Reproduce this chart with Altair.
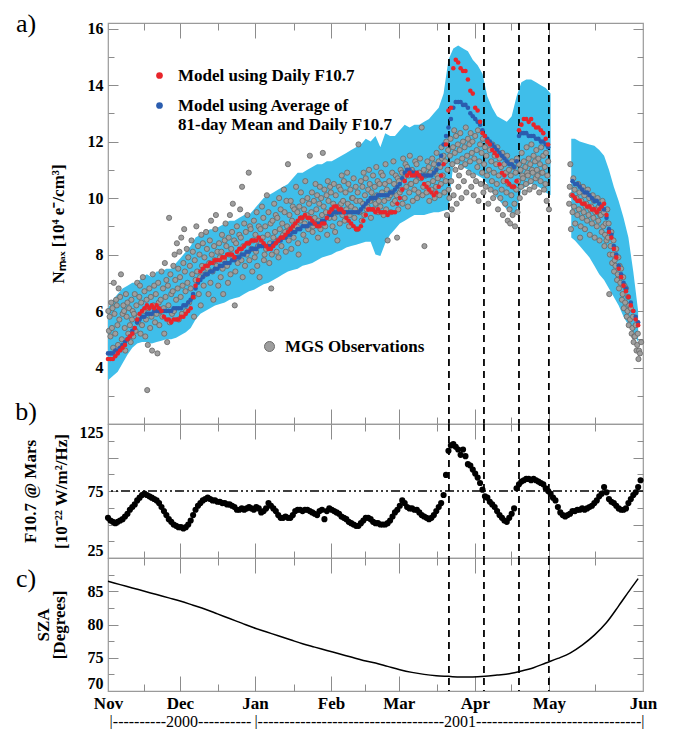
import altair as alt
import pandas as pd

SERIF = "Liberation Serif"

# ---------------- x axis (days counted from 1 Nov 2000) ----------------
month_names = ["Nov", "Dec", "Jan", "Feb", "Mar", "Apr", "May", "Jun"]
month_pos = [0, 29.6, 60.4, 91.7, 119.6, 150.9, 181.3, 220]
mid_month_pos = [14.7, 45.2, 76.5, 105.7, 135.3, 165.7, 200.2]
year_names = ["|----------2000----------",
              "|-----------------------------------2001-------------------------------|"]
year_pos = [29.6, 140.2]
event_days = [140.2, 154.6, 169.0, 181.3]

# ---------------- panel a: Nmax ----------------
S_RED = "Model using Daily F10.7"
S_BLUE = "Model using Average of 81-day Mean and Daily F10.7"

model_daily_1 = [  # days 0..181
    4.3, 4.3, 4.3, 4.4, 4.5, 4.6, 4.7, 4.8, 5.0, 5.1,
    5.2, 5.4, 5.7, 5.9, 6.0, 6.1, 6.2, 6.1, 6.2, 6.1,
    6.2, 6.1, 6.0, 5.8, 5.7, 5.7, 5.6, 5.7, 5.7, 5.7,
    5.8, 5.8, 5.9, 6.0, 6.1, 6.5, 6.9, 7.1, 7.4, 7.5,
    7.6, 7.6, 7.7, 7.7, 7.8, 7.8, 7.8, 7.9, 7.9, 8.0,
    8.0, 8.0, 7.9, 8.1, 8.2, 8.2, 8.3, 8.4, 8.4, 8.5,
    8.5, 8.5, 8.6, 8.5, 8.4, 8.3, 8.2, 8.2, 8.3, 8.4,
    8.5, 8.6, 8.6, 8.7, 8.8, 8.9, 9.0, 9.1, 9.2, 9.3,
    9.3, 9.4, 9.3, 9.3, 9.2, 9.1, 9.0, 9.0, 9.1, 9.1,
    9.3, 9.5, 9.6, 9.7, 9.7, 9.6, 9.6, 9.5, 9.3, 9.2,
    9.1, 9.0, 8.9, 8.9, 9.0, 9.2, 9.4, 9.6, 9.6, 9.6,
    9.5, 9.6, 9.5, 9.5, 9.5, 9.4, 9.5, 9.5, 9.5, 9.8,
    10.0, 10.3, 10.6, 10.8, 10.9, 10.8, 10.8, 10.9, 10.8, 10.7,
    10.5, 10.4, 10.3, 10.2, 10.1, 10.2, 10.4, 10.8, 11.2, 11.9,
    13.1, 13.2, 14.6, 14.9, 14.8, 14.6, 14.5, 14.5, 14.2, 13.8,
    13.7, 13.2, 13.1, 12.7, 12.3, 12.2, 12.0, 11.9, 11.7, 11.6,
    11.5, 11.2, 10.9, 10.8, 10.6, 10.5, 10.4, 10.4, 10.6, 12.4,
    12.6, 12.8, 12.8, 12.7, 12.8, 12.6, 12.5, 12.5, 12.4, 12.3, 12.1, 11.9]
model_daily_2 = [  # days 191..218
    10.1, 10.0, 9.9, 9.9, 9.8, 9.8, 9.7, 9.7, 9.6, 9.6,
    9.5, 9.6, 9.7, 9.8, 9.4, 8.8, 8.6, 8.2, 7.9, 7.5,
    7.2, 6.9, 6.7, 6.5, 6.2, 6.0, 5.7, 5.5]
model_avg_1 = [  # days 0..181
    4.5, 4.5, 4.5, 4.6, 4.6, 4.7, 4.8, 4.9, 5.0, 5.1,
    5.3, 5.4, 5.6, 5.7, 5.8, 5.8, 5.9, 5.9, 5.9, 6.0,
    6.0, 6.0, 6.0, 6.0, 6.0, 6.0, 6.0, 6.1, 6.1, 6.1,
    6.1, 6.2, 6.2, 6.3, 6.4, 6.6, 6.8, 7.0, 7.1, 7.2,
    7.3, 7.3, 7.4, 7.4, 7.5, 7.5, 7.6, 7.6, 7.7, 7.7,
    7.7, 7.8, 7.8, 7.9, 7.9, 8.0, 8.0, 8.1, 8.1, 8.2,
    8.2, 8.2, 8.3, 8.3, 8.3, 8.3, 8.3, 8.3, 8.4, 8.4,
    8.5, 8.5, 8.6, 8.6, 8.7, 8.7, 8.8, 8.8, 8.9, 8.9,
    9.0, 9.0, 9.0, 9.1, 9.1, 9.1, 9.1, 9.1, 9.2, 9.2,
    9.3, 9.4, 9.4, 9.5, 9.5, 9.5, 9.5, 9.5, 9.5, 9.5,
    9.5, 9.5, 9.5, 9.5, 9.6, 9.7, 9.8, 9.9, 10.0, 10.0,
    10.0, 10.1, 10.1, 10.1, 10.1, 10.1, 10.2, 10.2, 10.3, 10.4,
    10.5, 10.7, 10.9, 11.0, 11.0, 10.9, 10.9, 10.8, 10.8, 10.8,
    10.8, 10.8, 10.8, 10.8, 10.9, 11.0, 11.2, 11.5, 11.9, 12.2,
    12.5, 12.8, 13.2, 13.4, 13.4, 13.4, 13.3, 13.3, 13.2, 13.0,
    12.9, 12.8, 12.7, 12.6, 12.4, 12.2, 12.1, 12.0, 11.9, 11.8,
    11.7, 11.6, 11.5, 11.4, 11.3, 11.2, 11.2, 11.1, 11.3, 12.2,
    12.3, 12.3, 12.3, 12.2, 12.2, 12.2, 12.1, 12.1, 12.0, 12.0, 11.9, 11.8]
model_avg_2 = [  # days 191..218
    10.6, 10.5, 10.5, 10.4, 10.3, 10.2, 10.2, 10.1, 10.0, 9.9,
    9.9, 9.8, 9.7, 9.6, 9.3, 8.9, 8.7, 8.3, 8.0, 7.6,
    7.3, 7.0, 6.8, 6.5, 6.3, 6.0, 5.8, 5.6]

band_days_1 = list(range(0, 183, 2))
band_upper_1 = [
    6.1, 6.4, 6.6, 6.8, 6.9, 7.0, 7.0, 7.2, 7.3, 7.2,
    7.4, 7.4, 7.5, 7.5, 7.7, 7.9, 8.1, 8.3, 8.6, 8.7,
    8.8, 8.9, 8.9, 9.0, 9.1, 9.2, 9.2, 9.3, 9.4, 9.4,
    9.6, 9.8, 10.0, 10.1, 10.2, 10.3, 10.4, 10.5, 10.7, 10.9,
    10.9, 11.0, 11.1, 11.2, 11.2, 11.3, 11.3, 11.4, 11.5, 11.6,
    11.7, 11.8, 11.9, 12.1, 12.0, 12.2, 11.8, 12.3, 12.2, 12.2,
    12.4, 12.6, 12.5, 12.6, 12.6, 12.7, 12.8, 13.0, 13.2, 13.7,
    14.9, 15.3, 15.4, 15.3, 15.2, 14.9, 14.7, 14.4, 13.6, 13.2,
    12.9, 12.8, 12.7, 12.9, 13.6, 14.1, 14.2, 14.2, 14.1, 14.0,
    13.9, 13.7]
band_lower_1 = [
    3.55, 3.7, 3.85, 4.15, 4.45, 4.7, 4.85, 4.9, 4.9, 4.85,
    4.9, 4.95, 5.0, 5.0, 5.05, 5.15, 5.25, 5.4, 5.7, 5.9,
    6.0, 6.1, 6.2, 6.25, 6.3, 6.4, 6.45, 6.5, 6.6, 6.7,
    6.75, 6.85, 6.95, 7.0, 7.1, 7.2, 7.3, 7.4, 7.45, 7.5,
    7.6, 7.65, 7.7, 7.8, 7.9, 7.95, 8.0, 8.1, 8.15, 8.25,
    8.3, 8.35, 8.4, 8.45, 8.45, 8.0, 7.95, 8.4, 8.7, 8.9,
    9.1, 9.2, 9.3, 9.4, 9.4, 9.4, 9.45, 9.5, 9.5, 9.55,
    9.6, 11.2, 11.2, 11.1, 11.0, 10.9, 10.8, 10.7, 10.5, 10.2,
    10.0, 9.8, 9.6, 9.45, 9.5, 10.3, 10.4, 10.5, 10.45, 10.35,
    10.2, 10.1]
band_days_2 = [190.5, 192, 194, 196, 198, 200, 202, 204, 206, 208, 210, 212, 214, 216, 218]
band_upper_2 = [12.1, 12.1, 12.0, 11.95, 11.9, 11.85, 11.7, 11.5, 11.0, 10.4, 9.9, 9.3, 8.6, 7.4, 6.0]
band_lower_2 = [8.6, 8.5, 8.3, 8.1, 7.9, 7.6, 7.3, 7.1, 6.8, 6.5, 6.2, 5.8, 5.5, 5.2, 4.9]

# MGS observations, one list per day (in order of observation time within the day)
mgs_nov = [  # days 0..29
    [5.6, 4.9, 6.0, 5.3], [5.8, 5.1, 6.3], [5.4, 6.1, 4.7, 7.0], [5.9, 5.2, 6.4],
    [6.2, 5.5, 4.8, 6.8], [5.7, 6.5, 7.3], [5.0, 5.9, 6.2], [6.0, 5.4, 4.6, 6.6],
    [5.8, 6.3, 5.2], [6.1, 5.5, 4.9], [6.4, 5.7, 6.0, 5.1], [5.9, 6.6, 5.3],
    [6.2, 7.0, 5.6], [5.8, 6.5, 6.9, 5.2], [6.3, 5.5, 7.2], [6.0, 6.7, 5.1],
    [5.7, 6.4, 3.2, 4.8], [6.1, 6.8, 5.4], [6.5, 5.8, 4.6, 7.3], [6.2, 6.9, 5.6],
    [6.6, 5.9, 4.5], [7.0, 6.3, 5.5, 6.0], [6.4, 7.4, 5.8], [6.8, 6.1, 5.2, 7.7],
    [6.5, 7.1, 4.9], [6.9, 6.2, 9.3, 5.6], [7.3, 6.6, 5.9], [6.7, 7.6, 6.0, 8.0],
    [7.1, 6.4, 8.4], [6.8, 7.5, 5.7, 8.1]]
mgs_dec = [  # days 30..60
    [7.2, 6.5, 8.6, 5.9], [6.9, 7.7, 8.9], [7.4, 6.7, 6.0, 8.2], [7.0, 7.9, 6.3],
    [7.6, 6.8, 8.5], [7.3, 8.1, 6.5, 5.8], [7.8, 7.1, 9.0], [7.4, 8.3, 6.6],
    [8.0, 7.2, 6.2, 8.7], [7.6, 8.4, 6.9], [7.9, 7.3, 8.8], [8.2, 7.5, 6.6],
    [7.7, 8.5, 7.0, 9.2], [8.0, 7.4, 6.4], [8.3, 7.8, 8.9, 9.4], [7.6, 8.1, 6.9],
    [8.4, 7.9, 7.2], [8.1, 8.7, 7.5, 6.6], [7.8, 8.5, 9.1], [8.3, 7.6, 7.0],
    [8.6, 8.0, 9.4, 7.3], [8.2, 8.8, 9.8], [7.9, 8.5, 6.2, 7.4], [8.4, 9.0, 7.7],
    [8.1, 8.7, 9.6], [8.6, 7.8, 10.4, 7.2], [8.3, 9.1, 7.6], [8.8, 8.0, 9.4],
    [8.4, 10.9, 7.8, 9.0], [8.9, 8.2, 7.4], [8.5, 9.2, 7.9]]
mgs_jan = [  # days 61..91
    [8.7, 8.1, 9.5, 7.6], [8.3, 9.0, 7.2], [8.9, 8.4, 9.7], [8.6, 9.3, 7.8, 8.0],
    [9.0, 8.2, 10.1], [8.7, 9.5, 7.7], [8.4, 9.1, 6.8, 8.0], [9.2, 8.6, 9.8],
    [8.8, 9.4, 8.1], [9.3, 8.5, 7.9, 10.0], [8.9, 9.6, 8.3], [9.1, 8.7, 10.3],
    [9.5, 8.8, 8.1, 9.9], [9.0, 11.2, 8.5], [9.4, 8.9, 9.9, 8.2], [9.2, 9.7, 8.6],
    [9.6, 8.9, 10.4], [9.0, 9.5, 8.4, 8.0], [9.7, 9.2, 10.2], [9.3, 9.9, 8.7],
    [9.6, 9.1, 10.6, 8.5], [9.4, 10.0, 8.9], [9.8, 11.5, 9.2], [9.5, 10.2, 8.8, 9.0],
    [9.9, 9.3, 10.5], [9.6, 10.1, 8.6], [9.2, 9.8, 10.4, 8.9], [10.0, 9.4, 11.6],
    [9.7, 10.3, 9.0], [9.5, 10.1, 8.7, 10.6], [9.9, 9.3, 10.4]]
mgs_feb = [  # days 92..119
    [10.2, 9.6, 9.0], [9.8, 10.5, 9.3, 8.8], [10.1, 9.5, 8.5], [9.7, 10.4, 9.1],
    [10.3, 9.8, 10.8, 9.4], [9.9, 10.6, 9.2], [10.2, 9.6, 10.9], [9.8, 10.5, 9.0, 9.4],
    [10.3, 9.7, 10.0], [10.0, 10.7, 9.3], [9.6, 10.4, 9.9, 8.9], [10.2, 11.9, 9.5],
    [9.9, 10.6, 9.2], [10.4, 9.8, 10.9, 9.4], [10.1, 10.7, 9.6], [9.7, 10.3, 11.0],
    [10.5, 9.9, 9.3, 10.2], [10.0, 10.8, 9.6], [10.4, 9.8, 11.1], [10.1, 10.6, 9.5, 9.9],
    [10.5, 9.7, 10.9], [10.2, 10.8, 9.4], [9.9, 10.5, 11.2, 9.6], [10.3, 8.5, 10.0],
    [10.6, 10.1, 9.5], [10.2, 10.9, 9.8, 11.3], [10.5, 9.9, 10.8], [10.1, 8.6, 10.7, 9.6]]
mgs_mar = [  # days 120..150
    [10.6, 10.2, 11.0], [10.3, 10.9, 9.8, 11.4], [10.7, 10.0, 11.2], [10.4, 11.1, 9.7],
    [10.8, 10.2, 11.5, 10.5], [10.5, 11.0, 9.9], [10.9, 10.3, 11.3], [10.6, 11.2, 10.0, 10.8],
    [10.2, 10.9, 11.4], [10.7, 12.5, 10.1], [10.4, 11.0, 8.3, 10.8], [10.8, 10.2, 11.3],
    [10.5, 11.1, 9.9, 10.9], [10.9, 10.3, 11.4], [10.6, 11.2, 10.0], [11.0, 10.4, 11.6, 10.8],
    [10.7, 11.3, 10.1], [11.1, 10.5, 11.8, 11.4], [10.8, 11.5, 10.2], [11.3, 10.6, 12.0, 9.4],
    [11.0, 11.7, 10.3, 10.0], [11.5, 12.1, 10.6, 9.6], [11.2, 11.8, 10.1, 12.4], [11.6, 11.0, 12.2, 9.8],
    [11.3, 11.9, 10.4, 10.8], [11.7, 12.3, 11.1, 10.0], [11.4, 12.0, 10.6], [11.8, 11.2, 12.5, 10.2],
    [11.5, 12.1, 10.9], [11.9, 11.3, 12.3, 10.4], [11.6, 12.0, 10.8, 10.1]]
mgs_apr = [  # days 151..181
    [11.4, 12.2, 10.6], [11.7, 11.1, 12.4, 9.9], [11.3, 11.9, 10.5], [11.6, 10.9, 12.1, 10.2],
    [11.2, 11.8, 10.4], [11.5, 10.8, 12.0, 9.8], [11.0, 11.7, 10.3], [11.3, 10.6, 11.9, 10.0],
    [10.9, 11.5, 10.2], [11.2, 10.5, 11.8, 9.6], [10.8, 11.4, 10.0], [11.1, 10.3, 11.6, 9.4],
    [10.6, 11.2, 9.8], [10.9, 10.2, 11.5, 9.2], [10.5, 11.0, 9.6, 9.1], [10.8, 10.1, 11.3, 9.4],
    [10.4, 11.1, 9.8, 9.0], [10.9, 10.3, 11.4, 9.5], [10.6, 11.2, 10.0], [11.0, 10.4, 11.6, 10.8],
    [10.7, 11.3, 10.2], [11.1, 10.5, 11.8, 10.9], [10.8, 11.4, 10.3], [11.2, 10.6, 11.9, 11.0],
    [10.9, 11.5, 10.4], [11.3, 10.7, 11.7, 11.0], [10.8, 11.4, 10.2], [11.2, 10.6, 11.8, 10.9],
    [10.9, 11.5, 10.3], [11.1, 10.5, 11.6, 9.9], [10.8, 11.3, 9.6]]
mgs_may = [  # days 190..219
    [9.8, 10.4, 11.2, 8.9], [10.1, 9.5, 10.7], [9.7, 10.3, 9.1, 10.0], [10.0, 9.4, 10.5],
    [9.6, 10.2, 8.6, 9.0], [9.9, 9.3, 10.4], [9.5, 10.1, 8.9, 9.7], [9.8, 9.2, 10.3],
    [9.4, 10.0, 8.7, 9.6], [9.7, 9.1, 10.1], [9.3, 9.9, 8.6, 9.5], [9.6, 9.0, 10.0],
    [9.2, 9.7, 8.5, 9.4], [9.4, 8.8, 9.9], [9.0, 9.5, 8.3, 8.7], [9.1, 8.5, 9.6],
    [8.6, 9.1, 6.6, 8.0], [8.3, 8.8, 7.7], [8.0, 8.5, 7.4, 7.8], [7.6, 8.2, 7.1],
    [7.3, 7.9, 6.8, 7.6], [7.0, 7.5, 6.4], [6.6, 7.2, 6.1, 6.9], [6.3, 6.8, 5.8],
    [6.0, 6.5, 5.5, 6.2], [5.7, 6.1, 5.2], [5.4, 5.8, 4.9, 5.1], [5.1, 5.5, 4.6],
    [4.8, 5.2, 4.3, 4.6], [4.5, 4.9]]

# ---------------- panel b: F10.7 at Mars ----------------
f107_daily = [  # days 0..219
    55, 53, 52, 51, 52, 53, 54, 56, 58, 61,
    63, 65, 68, 70, 72, 73, 72, 71, 70, 69,
    68, 66, 63, 60, 57, 54, 52, 50, 49, 48,
    48, 47, 48, 50, 53, 57, 61, 64, 66, 68,
    69, 70, 69, 68, 68, 67, 67, 66, 66, 65,
    65, 64, 63, 61, 61, 62, 61, 62, 63, 62,
    61, 63, 62, 59, 60, 62, 66, 64, 62, 60,
    57, 55, 55, 56, 55, 55, 57, 60, 61, 61,
    60, 61, 61, 60, 59, 58, 57, 60, 61, 54,
    60, 62, 61, 60, 59, 58, 56, 55, 54, 52,
    51, 50, 49, 49, 51, 53, 55, 55, 54, 52,
    51, 51, 50, 50, 50, 51, 53, 56, 59, 61,
    64, 68, 66, 63, 62, 62, 61, 61, 59, 57,
    56, 55, 54, 55, 57, 60, 63, 66, 72, 87,
    105, 109, 110, 108, 106, 102, 106, 101, 95, 94,
    91, 88, 85, 81, 76, 71, 70, 67, 65, 63,
    60, 57, 55, 53, 52, 55, 58, 62, 77, 80,
    82, 83, 84, 84, 83, 84, 83, 82, 81, 80,
    77, 75, 73, 70, 68, 63, 59, 57, 56, 57,
    58, 60, 60, 61, 61, 62, 61, 62, 63, 64,
    66, 68, 71, 73, 78, 74, 69, 67, 66, 64,
    62, 61, 61, 62, 66, 69, 72, 74, 78, 83]
f107_ref = [75]

# ---------------- panel c: solar zenith angle ----------------
sza_days = [0, 5, 10, 15, 20, 25, 30, 35, 40, 45, 50, 55, 60, 65, 70, 75, 80, 85, 90,
            95, 100, 105, 110, 115, 120, 125, 130, 135, 140, 145, 150, 155, 160, 165,
            170, 175, 180, 185, 190, 195, 200, 205, 210, 215, 218]
sza_deg = [86.5, 86.0, 85.5, 85.0, 84.5, 84.0, 83.5, 82.9, 82.3, 81.6, 80.9, 80.2, 79.5,
           78.9, 78.3, 77.7, 77.1, 76.6, 76.1, 75.6, 75.1, 74.6, 74.2, 73.7, 73.2, 72.8,
           72.5, 72.3, 72.2, 72.1, 72.1, 72.2, 72.4, 72.6, 73.0, 73.5, 74.2, 74.9, 75.7,
           76.9, 78.4, 80.3, 82.8, 85.4, 86.9]

# ---------------- tables ----------------
def per_day(groups, start):
    """Observations of one day are spread over that day, in their order."""
    days, vals = [], []
    for i, g in enumerate(groups):
        n = len(g)
        days += [start + i - 0.5 + (k + 0.5) / n for k in range(n)]
        vals += g
    return days, vals

mgs_day, mgs_val = [], []
for groups, start in [(mgs_nov, 0), (mgs_dec, 30), (mgs_jan, 61), (mgs_feb, 92),
                      (mgs_mar, 120), (mgs_apr, 151), (mgs_may, 190)]:
    d, v = per_day(groups, start)
    mgs_day += d
    mgs_val += v
mgs_df = pd.DataFrame({"day": mgs_day, "nmax": mgs_val, "src": "MGS Observations"})
mgs_df = mgs_df[(mgs_df.day >= 0) & (mgs_df.day <= 220)]

rows = []
for vals, start, s in [(model_avg_1, 0, S_BLUE), (model_avg_2, 191, S_BLUE),
                       (model_daily_1, 0, S_RED), (model_daily_2, 191, S_RED)]:
    for i, v in enumerate(vals):
        rows.append({"day": start + i, "nmax": v, "series": s})
model_df = pd.DataFrame(rows)

band_df = pd.DataFrame({
    "day": band_days_1 + band_days_2,
    "upper": band_upper_1 + band_upper_2,
    "lower": band_lower_1 + band_lower_2,
    "seg": ["s1"] * len(band_days_1) + ["s2"] * len(band_days_2)})

f_df = pd.DataFrame({"day": list(range(len(f107_daily))), "f": f107_daily})
sza_df = pd.DataFrame({"day": sza_days, "sza": sza_deg})
ev_df = pd.DataFrame({"day": event_days})

# ---------------- helpers ----------------
W = 535
H_A, H_B, H_C = 401, 134, 133
TICK = "#8c8c8c"


def xs():
    return alt.Scale(domain=[0, 220], nice=False, zero=False)


def ys(dom):
    return alt.Scale(domain=dom, nice=False, zero=False)


def expr_map(pos, names):
    e = "''"
    for p, n in zip(reversed(pos), reversed(names)):
        e = f"abs(datum.value - {p}) < 0.01 ? '{n}' : ({e})"
    return e


def tick_axis(orient, values, size):
    return alt.Axis(orient=orient, values=values, tickSize=size, offset=-size,
                    labels=False, domain=False, grid=False, title=None,
                    tickColor=TICK, tickWidth=1)


def tick_layers(dom, y_major, y_minor):
    d = pd.DataFrame({"x": [0.0], "y": [float(dom[0])]})
    specs = [("bottom", month_pos[1:-1], 15, "left", y_major, 10),
             ("bottom", mid_month_pos, 7, "left", y_minor, 6),
             ("top", month_pos[1:-1], 15, "right", y_major, 10),
             ("top", mid_month_pos, 7, "right", y_minor, 6)]
    out = []
    for xo, xv, xsz, yo, yv, ysz in specs:
        out.append(alt.Chart(d).mark_point(opacity=0).encode(
            x=alt.X("x:Q", scale=xs(), axis=tick_axis(xo, xv, xsz)),
            y=alt.Y("y:Q", scale=ys(dom), axis=tick_axis(yo, yv, ysz))))
    return out


def label_layer(dom, yaxis, xaxis=None):
    d = pd.DataFrame({"x": [0.0], "y": [float(dom[0])]})
    return alt.Chart(d).mark_point(opacity=0).encode(
        x=alt.X("x:Q", scale=xs(), axis=xaxis),
        y=alt.Y("y:Q", scale=ys(dom), axis=yaxis))


def y_label_axis(values, title, title_pad, line_h=None, flush=False):
    kw = {}
    if line_h is not None:
        kw["titleLineHeight"] = line_h
    return alt.Axis(orient="left", values=values, ticks=False, domain=False, grid=False,
                    labelPadding=5, labelFont=SERIF, labelFontSize=16, labelFontWeight="bold",
                    labelColor="black", labelFlush=flush,
                    title=title, titleFont=SERIF, titleFontSize=17, titleFontWeight="bold",
                    titleColor="black", titlePadding=title_pad, **kw)


def letter(t, y):
    return alt.Chart(pd.DataFrame({"t": [t]})).mark_text(
        font=SERIF, fontSize=26, align="center", baseline="middle", color="black"
    ).encode(x=alt.value(-82), y=alt.value(y), text="t:N")


def events(dom):
    return alt.Chart(ev_df).mark_rule(color="black", strokeDash=[7, 5], strokeWidth=1.8).encode(
        x=alt.X("day:Q", scale=xs(), axis=None))


# ---------------- panel a ----------------
DOM_A = [2, 16.2]
band = alt.Chart(band_df).mark_area(color="#3fbeea", opacity=1).encode(
    x=alt.X("day:Q", scale=xs(), axis=None),
    y=alt.Y("upper:Q", scale=ys(DOM_A), axis=None),
    y2="lower:Q",
    detail="seg:N")

mgs = alt.Chart(mgs_df).mark_circle(size=27, opacity=1, stroke="#666666", strokeWidth=0.8).encode(
    x=alt.X("day:Q", scale=xs(), axis=None),
    y=alt.Y("nmax:Q", scale=ys(DOM_A), axis=None),
    fill=alt.Fill("src:N", scale=alt.Scale(domain=["MGS Observations"], range=["#9e9e9e"]),
                  legend=alt.Legend(orient="none", legendX=153, legendY=315, title=None,
                                    symbolType="circle", symbolSize=100,
                                    symbolStrokeColor="#6c6c6c", symbolStrokeWidth=1,
                                    labelFont=SERIF, labelFontSize=17, labelFontWeight="bold",
                                    labelColor="black", labelOffset=7, padding=0)))

blue_label = ("['Model using Average of', '81-day Mean and Daily F10.7']")
model = alt.Chart(model_df).mark_circle(size=21, opacity=1).encode(
    x=alt.X("day:Q", scale=xs(), axis=None),
    y=alt.Y("nmax:Q", scale=ys(DOM_A), axis=None),
    color=alt.Color("series:N",
                    scale=alt.Scale(domain=[S_RED, S_BLUE], range=["#e8252b", "#2b5daf"]),
                    legend=alt.Legend(orient="none", legendX=43, legendY=44, title=None,
                                      symbolType="circle", symbolSize=45, symbolStrokeWidth=0,
                                      labelFont=SERIF, labelFontSize=17, labelFontWeight="bold",
                                      labelColor="black", labelLimit=600, labelOffset=10,
                                      rowPadding=12, padding=0,
                                      labelExpr=f"datum.label == '{S_BLUE}' ? {blue_label} : datum.label")))

panel_a = alt.layer(
    band, events(DOM_A), mgs, model,
    *tick_layers(DOM_A, [4, 6, 8, 10, 12, 14, 16], [3, 5, 7, 9, 11, 13, 15]),
    label_layer(DOM_A, y_label_axis([4, 6, 8, 10, 12, 14, 16], "Nₘₐₓ [10⁴ e⁻/cm³]", 20)),
    letter("a)", 1),
).resolve_axis(x="independent", y="independent").properties(width=W, height=H_A)

# ---------------- panel b ----------------
DOM_B = [25, 125]
f_pts = alt.Chart(f_df).mark_circle(size=38, opacity=1, color="black").encode(
    x=alt.X("day:Q", scale=xs(), axis=None),
    y=alt.Y("f:Q", scale=ys(DOM_B), axis=None))
f_ref = alt.Chart(pd.DataFrame({"lvl": f107_ref})).mark_rule(
    color="black", strokeWidth=1.4, strokeDash=[9, 3, 2, 3, 2, 3, 2, 3]).encode(
    y=alt.Y("lvl:Q", scale=ys(DOM_B), axis=None))

panel_b = alt.layer(
    f_ref, events(DOM_B), f_pts,
    *tick_layers(DOM_B, [50, 75, 100], [37.5, 62.5, 87.5, 112.5]),
    label_layer(DOM_B, y_label_axis([25, 75, 125], ["F10.7 @ Mars", "[10⁻²² W/m²/Hz]"], 9,
                                    line_h=31, flush=True)),
    letter("b)", -12),
).resolve_axis(x="independent", y="independent").properties(width=W, height=H_B)

# ---------------- panel c ----------------
DOM_C = [70, 90]
sza_line = alt.Chart(sza_df).mark_line(color="black", strokeWidth=1.5, interpolate="monotone").encode(
    x=alt.X("day:Q", scale=xs(), axis=None),
    y=alt.Y("sza:Q", scale=ys(DOM_C), axis=None))

month_axis = alt.Axis(orient="bottom", values=month_pos, labelExpr=expr_map(month_pos, month_names),
                      ticks=False, domain=False, grid=False, labelPadding=4, labelFlush=False,
                      labelOverlap=False, labelFont=SERIF, labelFontSize=17, labelFontWeight="bold",
                      labelColor="black", title=None)
year_axis = alt.Axis(orient="bottom", values=year_pos, labelExpr=expr_map(year_pos, year_names),
                     ticks=False, domain=False, grid=False, labelPadding=22, labelFlush=False,
                     labelOverlap=False, labelLimit=1000, labelFont=SERIF, labelFontSize=16,
                     labelColor="black", title=None)

panel_c = alt.layer(
    events(DOM_C), sza_line,
    *tick_layers(DOM_C, [75, 80, 85], [72.5, 77.5, 82.5, 87.5]),
    label_layer(DOM_C, y_label_axis([70, 75, 80, 85], ["SZA", "[Degrees]"], 19, line_h=16,
                                    flush=True), xaxis=month_axis),
    label_layer(DOM_C, None, xaxis=year_axis),
    letter("c)", 21),
).resolve_axis(x="independent", y="independent").properties(width=W, height=H_C)

chart = alt.vconcat(panel_a, panel_b, panel_c, spacing=0, bounds="flush").properties(
    padding={"left": 6, "top": 2, "right": 5, "bottom": 2}
).configure_view(stroke="#9a9a9a", strokeWidth=1.2)

chart.save("out.html", embed_options={"renderer": "svg", "actions": False})
